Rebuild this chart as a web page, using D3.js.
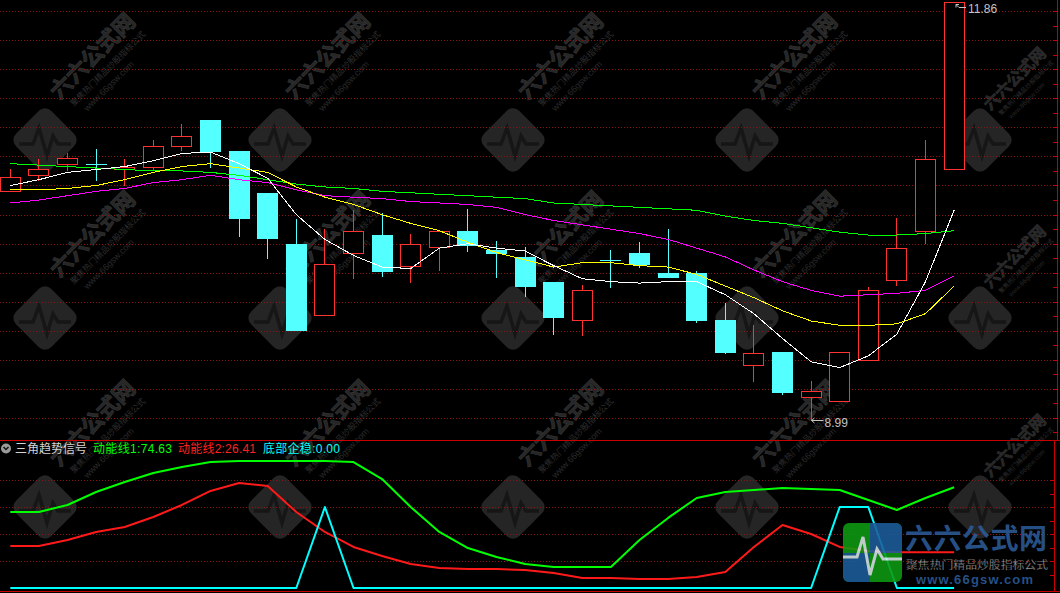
<!DOCTYPE html>
<html><head><meta charset="utf-8">
<script src="https://cdn.jsdelivr.net/npm/d3@7"></script>
<style>
html,body{margin:0;padding:0;background:#000;overflow:hidden}
svg{display:block}
</style></head><body>
<svg id="c" width="1060" height="593"></svg>
<script>
// ---------------- data ----------------
const openP  = [10.56,10.67,10.75,10.75,10.71,10.73,10.87,11.05,10.84,10.55,10.20,9.71,10.14,10.26,10.05,10.18,10.29,10.16,10.11,9.94,9.68,10.09,10.14,10.00,10.00,9.68,9.37,9.46,9.15,9.12,9.40,9.95,10.29,10.71];
const highP  = [10.71,10.78,10.82,10.85,10.78,10.91,11.02,11.05,10.84,10.55,10.37,10.30,10.43,10.41,10.27,10.29,10.44,10.22,10.18,9.94,9.92,10.16,10.21,10.30,10.01,9.79,9.64,9.46,9.26,9.46,9.90,10.38,10.91,11.86];
const lowP   = [10.56,10.63,10.70,10.64,10.60,10.70,10.84,10.73,10.25,10.10,9.61,9.71,9.96,9.98,9.93,10.01,10.15,9.97,9.84,9.58,9.57,9.90,10.04,9.97,9.66,9.45,9.25,9.17,8.99,9.12,9.40,9.91,10.20,10.71];
const closeP = [10.66,10.71,10.79,10.75,10.73,10.87,10.94,10.84,10.38,10.24,9.61,10.06,10.29,10.01,10.20,10.29,10.19,10.14,9.91,9.70,9.88,10.09,10.06,9.97,9.68,9.46,9.45,9.18,9.19,9.46,9.88,10.17,10.78,11.86];

const ma5  = [10.60,10.64,10.69,10.71,10.73,10.77,10.82,10.83,10.75,10.65,10.40,10.23,10.12,10.04,10.03,10.17,10.20,10.17,10.15,10.05,9.96,9.94,9.93,9.94,9.94,9.85,9.72,9.55,9.39,9.35,9.43,9.58,9.94,10.43];
const ma10 = [10.57,10.57,10.58,10.60,10.64,10.69,10.73,10.75,10.72,10.69,10.59,10.52,10.47,10.40,10.34,10.29,10.21,10.14,10.09,10.04,10.07,10.07,10.05,10.04,9.99,9.91,9.83,9.74,9.67,9.64,9.64,9.65,9.72,9.91];
const ma20 = [10.48,10.50,10.53,10.56,10.58,10.62,10.64,10.67,10.64,10.62,10.57,10.53,10.52,10.51,10.49,10.48,10.47,10.45,10.40,10.36,10.33,10.30,10.27,10.23,10.17,10.11,10.02,9.94,9.88,9.84,9.85,9.86,9.88,9.98];
const ma60 = [10.75,10.74,10.73,10.72,10.71,10.70,10.70,10.69,10.67,10.64,10.61,10.59,10.58,10.56,10.55,10.54,10.53,10.52,10.51,10.48,10.47,10.46,10.45,10.44,10.43,10.39,10.36,10.34,10.31,10.28,10.26,10.26,10.27,10.29];

const momentum1 = [56.3,56.3,61.5,71.1,78.5,85.2,89.6,93.3,94.1,94.1,94.1,94.1,93.3,80.7,60.0,41.5,29.6,23.0,17.8,15.6,15.6,15.6,35.6,51.9,66.7,71.1,72.6,74.1,73.3,72.6,65.2,57.8,66.7,74.63];
const momentum2 = [31.1,31.1,35.6,41.5,45.2,52.6,61.5,71.9,77.8,75.6,56.3,41.5,30.4,23.7,17.8,14.8,14.1,14.1,13.3,11.1,7.4,7.4,6.7,6.7,8.1,11.9,30.4,46.7,40.0,30.4,27.4,26.4,26.4,26.41];
const bottomSignal = [0,0,0,0,0,0,0,0,0,0,0,60,0,0,0,0,0,0,0,0,0,0,0,0,0,0,0,0,0,60,60,0,0,0];

const lowerGridValues = [20,40,60,80];
const lowerTickValues = [10,20,30,40,50,60,70,80];
const indicatorName = "三角趋势信号";
const seriesNames = ["动能线1","动能线2","底部企稳"];

// ---------------- setup ----------------
const W = 1060, H = 593;
const svg = d3.select("#c");
svg.append("rect").attr("width", W).attr("height", H).attr("fill", "#000");

const n = closeP.length;
const step = 28.6, xStart = -4.0;
const xBand = d3.scaleBand().domain(d3.range(n)).range([xStart, xStart + step * n])
  .paddingInner(0.27).paddingOuter(0.135);
const xc = i => xBand(i) + xBand.bandwidth() / 2;

const yP = d3.scaleLinear().domain([d3.min(lowP), d3.max(highP)]).range([420, 2]);
const yL = d3.scaleLinear().domain([0, 80]).range([588, 480]);

const UP = "#ff3232", DOWN = "#54ffff", GRID = "#8e1414", FRAME = "#c80000";

// ---------------- watermarks (background) ----------------
const wm = svg.append("g").attr("class", "watermark");
const wmX = [45, 280, 513, 747, 980], wmY = [140, 318, 507];
wmY.forEach(cy => wmX.forEach(cx => {
  const g = wm.append("g").attr("transform", `translate(${cx},${cy})`);
  g.append("rect").attr("x", -25).attr("y", -25).attr("width", 50).attr("height", 50)
    .attr("rx", 9).attr("transform", "rotate(45)").attr("fill", "#252525");
  g.append("path").attr("d", "M-26,4 L-12,4 L-6,-12 L2,16 L8,-4 L13,4 L26,4")
    .attr("fill", "none").attr("stroke", "#161616").attr("stroke-width", 3.5);
  const s = Math.min(1, (1056 - cx) / 104);
  const t = g.append("g").attr("transform", `rotate(-45) scale(${s})`);
  t.append("text").attr("x", 38).attr("y", -18).text("六六公式网")
    .attr("font-family", "Noto Sans CJK SC").attr("font-weight", "bold").attr("font-size", 22)
    .attr("fill", "#262626").attr("stroke", "#333").attr("stroke-width", 0.7);
  t.append("text").attr("x", 44).attr("y", -3).text("聚焦热门精品炒股指标公式")
    .attr("font-family", "Noto Sans CJK SC").attr("font-size", 8.5).attr("fill", "#2e2e2e");
  t.append("text").attr("x", 50).attr("y", 10).text("www.66gsw.com")
    .attr("font-family", "Liberation Sans").attr("font-size", 9).attr("fill", "#2a2a2a");
}));

// ---------------- grid & frame ----------------
const grid = svg.append("g").attr("shape-rendering", "crispEdges");
d3.range(15).forEach(k => {
  const y = Math.round(11.3 + 29.03 * k) + 0.5;
  grid.append("line").attr("x1", 0).attr("x2", 1056).attr("y1", y).attr("y2", y)
    .attr("stroke", GRID).attr("stroke-dasharray", "1 2");
});
lowerGridValues.forEach(v => {
  const y = Math.round(yL(v)) + 0.5;
  grid.append("line").attr("x1", 0).attr("x2", 1052).attr("y1", y).attr("y2", y)
    .attr("stroke", GRID).attr("stroke-dasharray", "1 2");
});
// frame lines
grid.append("line").attr("x1", 0).attr("x2", W).attr("y1", 440.5).attr("y2", 440.5).attr("stroke", FRAME);
grid.append("line").attr("x1", 0).attr("x2", W).attr("y1", 591.5).attr("y2", 591.5).attr("stroke", FRAME);
grid.append("line").attr("x1", 1057.5).attr("x2", 1057.5).attr("y1", 0).attr("y2", 440).attr("stroke", FRAME);
grid.append("line").attr("x1", 1054.5).attr("x2", 1054.5).attr("y1", 440).attr("y2", 592).attr("stroke", FRAME);
d3.range(30).forEach(j => {
  const y = Math.round(11.3 + 14.515 * j) + 0.5;
  grid.append("line").attr("x1", 1053).attr("x2", 1057).attr("y1", y).attr("y2", y).attr("stroke", FRAME);
});
lowerTickValues.forEach(v => {
  const y = Math.round(yL(v)) + 0.5;
  grid.append("line").attr("x1", 1050).attr("x2", 1054).attr("y1", y).attr("y2", y).attr("stroke", FRAME);
});

// ---------------- candles ----------------
const cg = svg.append("g").attr("shape-rendering", "crispEdges");
d3.range(n).forEach(i => {
  const o = openP[i], c = closeP[i], h = highP[i], l = lowP[i];
  const left = Math.round(xc(i) - 10.5);
  const wx = Math.floor(xc(i)) + 0.5;
  const top = Math.round(yP(Math.max(o, c)));
  const bot = Math.round(yP(Math.min(o, c)));
  const yh = Math.round(yP(h)), yl = Math.round(yP(l));
  if (c > o) {
    if (yh < top) cg.append("line").attr("x1", wx).attr("x2", wx).attr("y1", yh).attr("y2", top).attr("stroke", UP);
    if (yl > bot) cg.append("line").attr("x1", wx).attr("x2", wx).attr("y1", bot + 1).attr("y2", yl).attr("stroke", UP);
    cg.append("rect").attr("x", left + 0.5).attr("y", top + 0.5).attr("width", 20).attr("height", Math.max(1, bot - top))
      .attr("fill", "#000").attr("stroke", UP);
  } else {
    cg.append("line").attr("x1", wx).attr("x2", wx).attr("y1", yh).attr("y2", yl + 1).attr("stroke", DOWN);
    if (bot - top < 1) {
      cg.append("line").attr("x1", left).attr("x2", left + 21).attr("y1", top + 0.5).attr("y2", top + 0.5).attr("stroke", DOWN);
    } else {
      cg.append("rect").attr("x", left).attr("y", top).attr("width", 21).attr("height", bot - top + 1).attr("fill", DOWN);
    }
  }
});

// ---------------- moving averages ----------------
const maLine = d3.line().x((d, i) => xc(i)).y(d => yP(d));
[[ma60, "#00ff00"], [ma20, "#ff00ff"], [ma10, "#ffff00"], [ma5, "#ffffff"]].forEach(([arr, col]) => {
  svg.append("path").attr("d", maLine(arr)).attr("fill", "none").attr("stroke", col)
    .attr("stroke-width", 1).attr("shape-rendering", "crispEdges");
});

// ---------------- high / low labels ----------------
const hiIdx = d3.maxIndex(highP), loIdx = d3.minIndex(lowP);
const labelCol = "#c4c4c4";
{
  const ax = Math.floor(xc(hiIdx)) + 1, ay = Math.round(yP(highP[hiIdx])) + 1;
  svg.append("path").attr("d", `M${ax + 11},${ay + 4.5} H${ax + 4} L${ax + 1},${ay + 1.5} M${ax + 1},${ay + 1.5} v3 M${ax + 1},${ay + 1.5} h3`)
    .attr("fill", "none").attr("stroke", labelCol).attr("stroke-width", 1);
  svg.append("text").attr("x", ax + 13).attr("y", ay + 10).text(highP[hiIdx].toFixed(2))
    .attr("font-family", "Liberation Sans").attr("font-size", 12).attr("fill", labelCol);
}
{
  const ax = Math.floor(xc(loIdx)) + 0.5, ay = Math.round(yP(lowP[loIdx])) + 0.5;
  svg.append("path").attr("d", `M${ax + 12},${ay} H${ax} M${ax},${ay} l3,-2.5 M${ax},${ay} l3,2.5`)
    .attr("fill", "none").attr("stroke", labelCol).attr("stroke-width", 1);
  svg.append("text").attr("x", ax + 13).attr("y", ay + 6).text(lowP[loIdx].toFixed(2))
    .attr("font-family", "Liberation Sans").attr("font-size", 12).attr("fill", labelCol);
}

// ---------------- lower indicator ----------------
const lowLine = d3.line().x((d, i) => xc(i)).y(d => yL(d));
[[momentum1, "#00ff00"], [momentum2, "#ff1a1a"], [bottomSignal, "#00ffff"]].forEach(([arr, col]) => {
  svg.append("path").attr("d", lowLine(arr)).attr("fill", "none").attr("stroke", col)
    .attr("stroke-width", 2).attr("stroke-linejoin", "round");
});

// title row
const ty = 453;
svg.append("circle").attr("cx", 6).attr("cy", 448.5).attr("r", 5).attr("fill", "#9a9a9a");
svg.append("path").attr("d", "M3.5,447 L6,449.6 L8.5,447").attr("fill", "none").attr("stroke", "#111").attr("stroke-width", 1.4);
const ff = "'Liberation Sans','Noto Sans CJK SC',sans-serif";
svg.append("text").attr("x", 15).attr("y", ty).text(indicatorName)
  .attr("font-family", ff).attr("font-size", 12).attr("fill", "#d4d4d4");
const vals = [momentum1[n - 1], momentum2[n - 1], bottomSignal[n - 1]];
const cols = ["#00ff00", "#ff2020", "#00ffff"];
const xs = [93, 178, 263], lens = [79, 78, 77];
seriesNames.forEach((nm, k) => {
  svg.append("text").attr("x", xs[k]).attr("y", ty).text(`${nm}:${vals[k].toFixed(2)}`)
    .attr("font-family", ff).attr("font-size", 12).attr("fill", cols[k])
    .attr("textLength", lens[k]).attr("lengthAdjust", "spacing");
});

// ---------------- site logo (bottom-right overlay) ----------------
const logo = svg.append("g").attr("opacity", 0.88);
const lx = 843, ly = 523;
const clip = svg.append("defs").append("clipPath").attr("id", "lg");
clip.append("rect").attr("x", lx).attr("y", ly).attr("width", 59).attr("height", 59).attr("rx", 6);
const ic = logo.append("g").attr("clip-path", "url(#lg)");
ic.append("rect").attr("x", lx).attr("y", ly).attr("width", 59).attr("height", 59).attr("fill", "#0e9a12");
ic.append("rect").attr("x", lx + 27).attr("y", ly).attr("width", 32).attr("height", 30).attr("fill", "#1d5d9c");
ic.append("rect").attr("x", lx).attr("y", ly + 30).attr("width", 27).attr("height", 29).attr("fill", "#1d5d9c");
ic.append("path").attr("d", `M${lx},${ly + 34} L${lx + 14},${ly + 34} L${lx + 20},${ly + 14} L${lx + 27},${ly + 52} L${lx + 34},${ly + 26} L${lx + 40},${ly + 36} L${lx + 59},${ly + 36}`)
  .attr("fill", "none").attr("stroke", "#d8e8e8").attr("stroke-width", 3);
logo.append("text").attr("x", 905).attr("y", 549).text("六六公式网")
  .attr("font-family", "Noto Sans CJK SC").attr("font-weight", "bold").attr("font-size", 28)
  .attr("fill", "#2c5c98").attr("textLength", 142);
logo.append("text").attr("x", 906).attr("y", 569).text("聚焦热门精品炒股指标公式")
  .attr("font-family", "Noto Sans CJK SC").attr("font-size", 11.8).attr("fill", "#c8c8c8")
  .attr("stroke", "#000").attr("stroke-width", 0.3).attr("textLength", 142);
logo.append("text").attr("x", 916).attr("y", 584).text("www.66gsw.com")
  .attr("font-family", "Liberation Sans").attr("font-weight", "bold").attr("font-size", 13)
  .attr("fill", "#2c5c98").attr("textLength", 117);
</script>
</body></html>
